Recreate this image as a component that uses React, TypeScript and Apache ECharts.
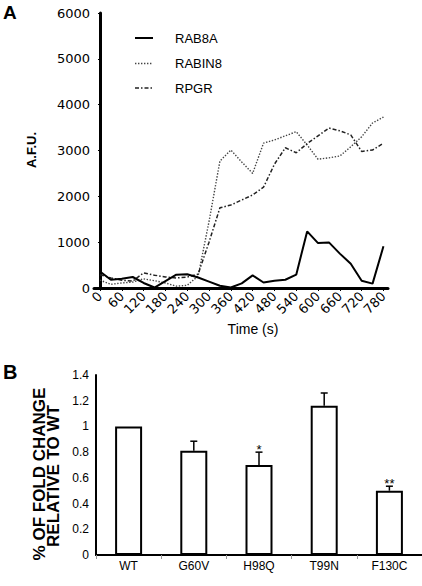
import React, { useEffect, useRef } from "react";
import * as echarts from "echarts";

// ---- Panel A data ----
const times = [0, 30, 60, 90, 120, 150, 180, 210, 240, 270, 300, 330, 360, 390, 420, 450, 480, 510, 540, 570, 600, 630, 660, 690, 720, 750, 780];
const timeTicks = [0, 60, 120, 180, 240, 300, 360, 420, 480, 540, 600, 660, 720, 780];
const rab8a = [360, 180, 200, 240, 110, 10, 150, 290, 300, 230, 140, 50, 10, 100, 275, 120, 160, 180, 290, 1235, 980, 995, 750, 530, 160, 95, 910];
const rabin8 = [170, 80, 110, 130, 200, 160, 110, 40, 60, 260, 1450, 2770, 3010, 2750, 2500, 3160, 3230, 3320, 3410, 3120, 2810, 2840, 2880, 3080, 3300, 3600, 3730];
const rpgr = [290, 220, 170, 150, 330, 280, 240, 220, 240, 300, 1000, 1750, 1810, 1920, 2030, 2200, 2700, 3060, 2950, 3150, 3320, 3490, 3430, 3340, 2980, 3010, 3160];
const seriesNames = ["RAB8A", "RABIN8", "RPGR"];

// ---- Panel B data ----
const categories = ["WT", "G60V", "H98Q", "T99N", "F130C"];
const foldChange = [1.0, 0.81, 0.7, 1.16, 0.5];
const errorUpper = [0, 0.075, 0.1, 0.1, 0.035];
const significance = ["", "", "*", "", "**"];

const SANS = "Liberation Sans";
const WIDE = "DejaVu Sans";

const lineStyles: any[] = [
  { color: "#000", width: 2, type: "solid" },
  { color: "#444", width: 1.4, type: [1.4, 1.6] },
  { color: "#222", width: 1.5, type: [4, 2, 1.5, 2] },
];

export default function App() {
  const ref = useRef<HTMLDivElement>(null);
  useEffect(() => {
    if (!ref.current) return;
    const chart = echarts.init(ref.current, null, { renderer: "svg" });
    const pair = (arr: number[]) => times.map((t, i) => [t, arr[i]]);
    const seriesData = [rab8a, rabin8, rpgr];

    const legendGraphics: any[] = [];
    const legendRows = [38, 63.5, 88];
    seriesNames.forEach((name, i) => {
      const ls = lineStyles[i];
      legendGraphics.push({
        type: "line",
        shape: { x1: 135, y1: legendRows[i], x2: 153, y2: legendRows[i] },
        style: {
          stroke: ls.color,
          lineWidth: ls.width,
          lineDash: Array.isArray(ls.type) ? ls.type : null,
        },
      });
      legendGraphics.push({
        type: "text",
        x: 175,
        y: legendRows[i],
        style: { text: name, fontSize: 13, fontFamily: SANS, fill: "#000", textVerticalAlign: "middle" },
      });
    });

    const option: any = {
      animation: false,
      backgroundColor: "#fff",
      textStyle: { fontFamily: SANS, color: "#000" },
      grid: [
        { left: 94, top: 13, width: 294, height: 275 },
        { left: 96, top: 375, width: 326, height: 180 },
      ],
      xAxis: [
        {
          gridIndex: 0,
          type: "value",
          min: -16.5,
          max: 792.5,
          splitLine: { show: false },
          axisLine: { lineStyle: { color: "#000", width: 3 } },
          axisTick: { show: true, customValues: timeTicks, length: 3, lineStyle: { color: "#000", width: 1 } },
          axisLabel: {
            customValues: timeTicks,
            rotate: 45,
            margin: 6,
            fontSize: 13,
            fontFamily: WIDE,
            color: "#000",
            formatter: (v: number) => String(v),
          },
        },
        {
          gridIndex: 1,
          type: "category",
          data: categories,
          boundaryGap: true,
          axisLine: { lineStyle: { color: "#000", width: 2 } },
          axisTick: { show: true, length: 4, lineStyle: { color: "#999", width: 1 } },
          axisLabel: { fontSize: 12, fontFamily: SANS, color: "#000", margin: 5 },
        },
      ],
      yAxis: [
        {
          gridIndex: 0,
          type: "value",
          min: 0,
          max: 6000,
          interval: 1000,
          splitLine: { show: false },
          axisLine: { show: true, lineStyle: { color: "#000", width: 3 } },
          axisTick: { show: true, length: 2, lineStyle: { color: "#000", width: 1 } },
          axisLabel: { fontSize: 13, fontFamily: WIDE, color: "#000", margin: 4, formatter: (v: number) => String(v) },
        },
        {
          gridIndex: 1,
          type: "value",
          min: 0,
          max: 1.4,
          interval: 0.2,
          splitLine: { show: false },
          axisLine: { show: true, lineStyle: { color: "#000", width: 2 } },
          axisTick: { show: false },
          axisLabel: {
            fontSize: 12,
            fontFamily: SANS,
            color: "#000",
            margin: 7,
            formatter: (v: number) => String(Math.round(v * 10) / 10),
          },
        },
      ],
      series: [
        ...seriesNames.map((name, i) => ({
          name,
          type: "line",
          xAxisIndex: 0,
          yAxisIndex: 0,
          data: pair(seriesData[i]),
          symbol: "none",
          lineStyle: lineStyles[i],
          itemStyle: { color: lineStyles[i].color },
          z: i === 0 ? 5 : 3,
        })),
        {
          name: "foldChange",
          type: "bar",
          xAxisIndex: 1,
          yAxisIndex: 1,
          data: foldChange,
          barWidth: 27,
          itemStyle: { color: "#fff", borderColor: "#000", borderWidth: 2 },
        },
        {
          name: "error",
          type: "custom",
          xAxisIndex: 1,
          yAxisIndex: 1,
          data: categories.map((c, i) => [i, foldChange[i], errorUpper[i]]),
          encode: { x: 0, y: 1 },
          z: 10,
          renderItem: (params: any, api: any) => {
            const i = api.value(0);
            const m = api.value(1);
            const e = api.value(2);
            if (!e) return { type: "group", children: [] };
            const b = api.coord([i, m]);
            const t = api.coord([i, m + e]);
            const children: any[] = [
              { type: "line", shape: { x1: b[0], y1: b[1], x2: t[0], y2: t[1] }, style: { stroke: "#000", lineWidth: 1.5 } },
              { type: "line", shape: { x1: t[0] - 3.5, y1: t[1], x2: t[0] + 3.5, y2: t[1] }, style: { stroke: "#000", lineWidth: 1.5 } },
            ];
            const s = significance[params.dataIndex];
            if (s) {
              children.push({
                type: "text",
                x: t[0],
                y: t[1] - 3,
                style: { text: s, fontSize: 13, fontFamily: SANS, fill: "#000", textAlign: "center", textVerticalAlign: "middle" },
              });
            }
            return { type: "group", children };
          },
        },
      ],
      graphic: [
        ...legendGraphics,
        { type: "text", left: 3, top: 3, style: { text: "A", fontSize: 19, fontWeight: "bold", fontFamily: SANS, fill: "#000" } },
        { type: "text", left: 3, top: 362, style: { text: "B", fontSize: 20, fontWeight: "bold", fontFamily: SANS, fill: "#000" } },
        {
          type: "text",
          x: 31,
          y: 150,
          rotation: Math.PI / 2,
          style: { text: "A.F.U.", fontSize: 13, fontWeight: "bold", fontFamily: SANS, fill: "#000", textAlign: "center", textVerticalAlign: "middle" },
        },
        {
          type: "text",
          x: 253,
          y: 329,
          style: { text: "Time (s)", fontSize: 14, fontFamily: SANS, fill: "#000", textAlign: "center", textVerticalAlign: "middle" },
        },
        {
          type: "text",
          x: 39.5,
          y: 474,
          rotation: Math.PI / 2,
          style: {
            text: "% OF FOLD CHANGE",
            fontSize: 17,
            fontWeight: "bold",
            fontFamily: SANS,
            fill: "#000",
            textAlign: "center",
            textVerticalAlign: "middle",
          },
        },
        {
          type: "text",
          x: 53.5,
          y: 476,
          rotation: Math.PI / 2,
          style: {
            text: "RELATIVE TO WT",
            fontSize: 17,
            fontWeight: "bold",
            fontFamily: SANS,
            fill: "#000",
            textAlign: "center",
            textVerticalAlign: "middle",
          },
        },
      ],
    };
    chart.setOption(option);
    return () => chart.dispose();
  }, []);
  return (
    <div
      ref={ref}
      style={{ position: "fixed", left: 0, top: 0, width: 422, height: 586, background: "#fff" }}
    />
  );
}
